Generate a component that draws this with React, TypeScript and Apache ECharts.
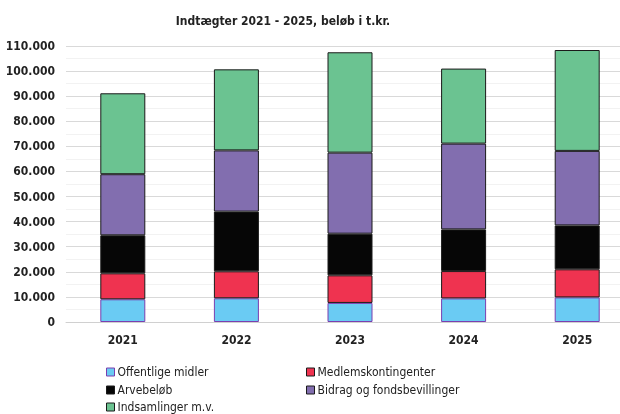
import React, { useEffect, useRef } from "react";
import * as echarts from "echarts";

const years = ["2021", "2022", "2023", "2024", "2025"];
const offentlige = [9050, 9450, 7600, 9400, 9800];
const medlems = [10350, 10750, 11000, 10900, 11200];
const arv = [15150, 23800, 16600, 16600, 17500];
const bidrag = [24350, 24400, 32300, 34200, 29700];
const indsamlinger = [32250, 32300, 40000, 29900, 40200];

const names = [
  "Offentlige midler",
  "Medlemskontingenter",
  "Arvebeløb",
  "Bidrag og fondsbevillinger",
  "Indsamlinger m.v.",
];
const colors = ["#6ACBF3", "#EF3350", "#060606", "#826EAF", "#6BC391"];
const borders = ["#7A3FB0", "#1a1a1a", "#1a1a1a", "#1a1a1a", "#1a1a1a"];
const values = [offentlige, medlems, arv, bidrag, indsamlinger];

const FONT = "'DejaVu Sans Condensed', 'DejaVu Sans', sans-serif";

const legendPos = [
  { left: 106, top: 366 },
  { left: 306, top: 366 },
  { left: 106, top: 384 },
  { left: 306, top: 384 },
  { left: 106, top: 401 },
];

export default function App() {
  const ref = useRef<HTMLDivElement>(null);
  useEffect(() => {
    const chart = echarts.init(ref.current!, null, { renderer: "svg" });
    chart.setOption({
      animation: false,
      textStyle: { fontFamily: FONT },
      title: {
        text: "Indtægter 2021 - 2025, beløb i t.kr.",
        left: 278,
        top: 10,
        textAlign: "center",
        textStyle: { fontFamily: FONT, fontSize: 12, fontWeight: "bold", color: "#222" },
      },
      legend: names.map((n, i) => ({
        left: legendPos[i].left,
        top: legendPos[i].top,
        padding: 0,
        icon: "rect",
        itemWidth: 8,
        itemHeight: 8,
        itemStyle: { borderColor: borders[i], borderWidth: 1 },
        data: [n],
        textStyle: { fontFamily: FONT, fontSize: 12, color: "#222", padding: [0, 0, 0, -2] },
      })),
      grid: { left: 66, top: 46, width: 568, height: 276, containLabel: false },
      xAxis: {
        type: "category",
        data: years,
        axisLine: { lineStyle: { color: "#D0D0D0" } },
        axisTick: { show: false },
        axisLabel: { fontFamily: FONT, fontSize: 12, fontWeight: "bold", color: "#222", margin: 12 },
      },
      yAxis: {
        type: "value",
        min: 0,
        max: 110000,
        interval: 10000,
        axisLine: { show: false },
        axisTick: { show: false },
        minorTick: { show: false, splitNumber: 2 },
        minorSplitLine: { show: true, lineStyle: { color: "#F2F2F2", width: 1 } },
        splitLine: { lineStyle: { color: "#D9D9D9", width: 1 } },
        axisLabel: {
          fontFamily: FONT,
          fontSize: 12,
          fontWeight: "bold",
          color: "#222",
          margin: 11,
          formatter: (v: number) => (v === 0 ? "0" : v.toLocaleString("de-DE")),
        },
      },
      series: names.map((n, i) => ({
        name: n,
        type: "bar",
        stack: "total",
        barWidth: 45,
        data: values[i],
        itemStyle: { color: colors[i], borderColor: borders[i], borderWidth: 1 },
      })),
    });
    return () => chart.dispose();
  }, []);
  return (
    <div style={{ position: "fixed", left: 0, top: 0, width: 620, height: 414, overflow: "hidden" }}>
      <div ref={ref} style={{ width: 640, height: 414 }} />
    </div>
  );
}
